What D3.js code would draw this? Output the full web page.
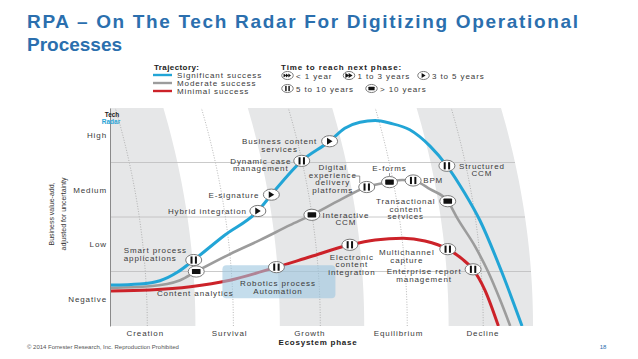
<!DOCTYPE html>
<html>
<head>
<meta charset="utf-8">
<script src="https://cdn.jsdelivr.net/npm/d3@7/dist/d3.min.js"></script>
<style>
  body { margin: 0; background: #fff; }
  svg text { font-family: "Liberation Sans", Arial, Helvetica, sans-serif; }
</style>
</head>
<body>
<div id="chart"></div>
<script>
// phases on x, business value on y
var phases = ["Creation", "Survival", "Growth", "Equilibrium", "Decline"];
var phaseTicks = [0.4, 1.4, 2.35, 3.4, 4.4];
var phaseMids = [0.43, 1.45, 2.48, 3.51, 4.41];
var levels = ["Negative", "Low", "Medium", "High"];
var levelTicks = [0.5, 1.5, 2.5, 3.5];

// trajectories [phase, value]
var significant = [[0, 0.75], [0.34, 0.77], [0.58, 0.83], [0.79, 0.99], [0.98, 1.21], [1.35, 1.67],
  [1.74, 2.11], [1.90, 2.41], [2.26, 3.03], [2.59, 3.39], [2.77, 3.63], [2.95, 3.74], [3.13, 3.77],
  [3.31, 3.72], [3.54, 3.60], [3.78, 3.30], [3.98, 2.94], [4.19, 2.44], [4.37, 1.94], [4.63, 0.99], [4.87, 0]];
var moderate = [[0, 0.70], [0.46, 0.73], [0.82, 0.84], [1.01, 1.00], [1.41, 1.32], [1.77, 1.58],
  [2.12, 1.85], [2.38, 2.04], [2.71, 2.31], [3.03, 2.55], [3.30, 2.64], [3.45, 2.68], [3.58, 2.67],
  [3.78, 2.51], [3.99, 2.29], [4.11, 1.96], [4.31, 1.47], [4.47, 0.99], [4.61, 0.48], [4.73, 0]];
var minimal = [[0, 0.64], [0.46, 0.66], [0.94, 0.72], [1.41, 0.84], [1.96, 1.08], [2.36, 1.27],
  [2.83, 1.49], [3.13, 1.58], [3.46, 1.61], [3.72, 1.56], [3.99, 1.41], [4.16, 1.23], [4.29, 1.04],
  [4.43, 0.66], [4.59, 0]];

var trajNames = ["Significant success", "Moderate success", "Minimal success"];
var trajColors = ["#22a5d6", "#9c9c9c", "#cc2229"];

// technologies on the radar
var techNames = ["Smart process|applications", "Hybrid integration", "E-signature", "Dynamic case|management",
  "Business content|services", "Structured|CCM", "Content analytics", "Interactive|CCM",
  "Digital|experience|delivery|platforms", "E-forms", "BPM", "Transactional|content|services",
  "Robotics process|Automation", "Electronic|content|integration", "Multichannel|capture",
  "Enterprise report|management"];
var techPhase = [0.98, 1.74, 1.90, 2.26, 2.59, 3.98, 1.01, 2.38, 3.03, 3.30, 3.58, 3.99, 1.96, 2.83, 3.99, 4.29];
var techValue = [1.21, 2.11, 2.41, 3.03, 3.39, 2.94, 1.00, 2.04, 2.55, 2.64, 2.67, 2.29, 1.08, 1.49, 1.41, 1.04];
var techTime = ["5-10", "3-5", "3-5", "5-10", "3-5", "5-10", ">10", ">10", "5-10", ">10", "5-10", ">10",
  "5-10", "5-10", "5-10", "5-10"];

var timeNames = ["< 1 year", "1 to 3 years", "3 to 5 years", "5 to 10 years", "> 10 years"];
var timeKeys = ["<1", "1-3", "3-5", "5-10", ">10"];

// label placement, pixels from the marker
var labelPlace = [
  {dx: -70, dy: -7, a: "start"}, {dx: -11, dy: 3, a: "end"}, {dx: -12, dy: 3, a: "end"},
  {dx: -41, dy: 3, a: "middle"}, {dx: -50, dy: 3, a: "middle"}, {dx: 35, dy: 3, a: "middle"},
  {dx: -1, dy: 24, a: "middle"}, {dx: 34, dy: 3, a: "middle"}, {dx: -34, dy: -17, a: "middle", lead: true},
  {dx: 0, dy: -11, a: "middle", tick: true}, {dx: 10, dy: 3, a: "start"}, {dx: -42, dy: 3, a: "middle"},
  {dx: 1.5, dy: 19, a: "middle", box: true}, {dx: 2, dy: 15, a: "middle"}, {dx: -41, dy: 6, a: "middle"},
  {dx: -49, dy: 5, a: "middle"}
];

var w = 638, h = 359;
var ink = "#3a3a3a";

// Create SVG
var svg = d3.select("#chart")
  .append("svg")
  .attr("width", w)
  .attr("height", h);

var x = d3.scaleLinear().domain([0, 5]).range([111, 533]);
var y = d3.scaleLinear().domain([0, 4]).range([326, 108]);

// title
var title = svg.append("g").attr("fill", "#2b6fae").attr("font-weight", "bold").attr("font-size", "19px");
title.append("text").attr("x", 27).attr("y", 28)
  .attr("textLength", 551).attr("lengthAdjust", "spacing")
  .text("RPA \u2013 On The Tech Radar For  Digitizing Operational");
title.append("text").attr("x", 27).attr("y", 51).text("Processes");

// plot clip
svg.append("clipPath").attr("id", "plot")
  .append("rect").attr("x", 110).attr("y", 108).attr("width", 440).attr("height", 218);

// radar bands lean left toward the top
var lean = 32;
function edgeX(p, v) {
  return x(p) - lean * Math.pow(v / 4, 2);
}
var vs = d3.range(0, 4.001, 0.1);
var bandArea = function(p) {
  return d3.area()
    .y(function(v) { return y(v); })
    .x0(function(v) { return edgeX(p, v); })
    .x1(function(v) { return edgeX(p + 1, v); })(vs);
};
var bg = svg.append("g").attr("clip-path", "url(#plot)");
[0, 2, 4].forEach(function(p) {
  bg.append("path").attr("d", bandArea(p)).attr("fill", "#e6e7e8");
});

// dotted phase lines
phaseMids.forEach(function(p) {
  bg.append("path")
    .attr("d", d3.line().x(function(v) { return edgeX(p, v); }).y(function(v) { return y(v); })(vs))
    .attr("fill", "none")
    .attr("stroke", "#9a9a9a")
    .attr("stroke-width", 0.7)
    .attr("stroke-dasharray", "1,1.6");
});

// level gridlines
[1, 2, 3].forEach(function(v) {
  bg.append("line")
    .attr("x1", 110).attr("x2", edgeX(5, v))
    .attr("y1", y(v)).attr("y2", y(v))
    .attr("stroke", "#bdbdbd").attr("stroke-width", 0.8);
});

// axes
var yAxis = d3.axisLeft(y).tickValues(levelTicks)
  .tickFormat(function(d, i) { return levels[i]; })
  .tickSize(0).tickPadding(3);
var gy = svg.append("g").attr("transform", "translate(110,0)").call(yAxis);
gy.select(".domain").attr("stroke", "#8a8a8a");

var xAxis = d3.axisBottom(x).tickValues(phaseTicks)
  .tickFormat(function(d, i) { return phases[i]; })
  .tickSize(0).tickPadding(4.5);
var gx = svg.append("g").attr("transform", "translate(0,326)").call(xAxis);
gx.select(".domain").remove();

svg.selectAll(".tick text")
  .attr("font-family", "Liberation Sans, Arial, sans-serif")
  .attr("font-size", "8px")
  .attr("letter-spacing", "0.9px")
  .attr("fill", ink);

svg.append("text").attr("x", 318).attr("y", 345).attr("text-anchor", "middle")
  .attr("font-size", "8px").attr("font-weight", "bold").attr("letter-spacing", "0.75px")
  .attr("fill", "#222").text("Ecosystem phase");

// y title
var yt = svg.append("text").attr("transform", "translate(0,214) rotate(-90)")
  .attr("text-anchor", "middle").attr("font-size", "8px").attr("fill", "#333");
yt.append("tspan").attr("x", 0).attr("y", 54).attr("textLength", 63).attr("lengthAdjust", "spacingAndGlyphs")
  .text("Business value-add,");
yt.append("tspan").attr("x", 0).attr("y", 66).attr("textLength", 73).attr("lengthAdjust", "spacingAndGlyphs")
  .text("adjusted for uncertainty");

// Tech Radar badge
svg.append("text").attr("x", 112).attr("y", 116.5).attr("text-anchor", "middle")
  .attr("font-size", "6.5px").attr("font-weight", "bold").attr("fill", "#222").text("Tech");
svg.append("text").attr("x", 111).attr("y", 124).attr("text-anchor", "middle")
  .attr("font-size", "6.5px").attr("font-weight", "bold").attr("fill", "#2aa3d5").text("Radar");

// trajectories
var line = d3.line()
  .x(function(d) { return x(d[0]); })
  .y(function(d) { return y(d[1]); })
  .curve(d3.curveMonotoneX);

svg.append("g").attr("clip-path", "url(#plot)")
  .selectAll("path")
  .data([minimal, moderate, significant])
  .enter()
  .append("path")
  .attr("d", line)
  .attr("fill", "none")
  .attr("stroke", function(d, i) { return trajColors[2 - i]; })
  .attr("stroke-width", function(d, i) { return [3, 2.6, 3][i]; })
  .attr("stroke-linecap", "butt");

// time-to-next-phase icon
function drawIcon(g, kind, s) {
  g.append("ellipse").attr("rx", 8 * s).attr("ry", 5.6 * s)
    .attr("fill", "#fff").attr("stroke", "#7a7a7a").attr("stroke-width", 1);
  var tri = function(x0) {
    g.append("path").attr("d", "M" + x0 * s + "," + (-3.4 * s) + "L" + (x0 + 5.5) * s + ",0L" + x0 * s + "," + (3.4 * s) + "Z")
      .attr("fill", "#111");
  };
  if (kind === "3-5") tri(-2.6);
  if (kind === "1-3") { tri(-5); tri(-0.5); }
  if (kind === "<1") {
    [-5.5, -2.2, 1.1].forEach(function(x0) {
      g.append("path").attr("d", "M" + x0 * s + "," + (-2.8 * s) + "L" + (x0 + 3.8) * s + ",0L" + x0 * s + "," + (2.8 * s) + "Z")
        .attr("fill", "#111");
    });
  }
  if (kind === "5-10") {
    [-3.2, 1.2].forEach(function(x0) {
      g.append("rect").attr("x", x0 * s).attr("y", -3.6 * s).attr("width", 2 * s).attr("height", 7.2 * s).attr("fill", "#111");
    });
  }
  if (kind === ">10") {
    g.append("rect").attr("x", -4.3 * s).attr("y", -2.6 * s).attr("width", 8.6 * s).attr("height", 5.2 * s)
      .attr("rx", 0.6).attr("fill", "#111");
  }
}

// Robotics box (behind its marker)
var mk = svg.append("g");
techNames.forEach(function(name, i) {
  var p = labelPlace[i];
  if (!p.box) return;
  mk.append("rect")
    .attr("x", x(techPhase[i]) - 54).attr("y", y(techValue[i]) - 2)
    .attr("width", 113).attr("height", 33).attr("rx", 4)
    .attr("fill", "#9cc6e0").attr("fill-opacity", 0.6);
});

// markers and labels
techNames.forEach(function(name, i) {
  var cx = x(techPhase[i]), cy = y(techValue[i]);
  var p = labelPlace[i];
  if (p.tick) {
    mk.append("line").attr("x1", cx).attr("x2", cx).attr("y1", cy - 9).attr("y2", cy - 5.6)
      .attr("stroke", "#666").attr("stroke-width", 0.7);
  }
  if (p.lead) {
    mk.append("path").attr("d", "M" + (cx - 14) + "," + (cy - 11) + "L" + (cx - 7) + "," + (cy - 11) + "L" + (cx - 7) + "," + (cy - 4))
      .attr("fill", "none").attr("stroke", "#666").attr("stroke-width", 0.7);
  }
  var g = mk.append("g").attr("transform", "translate(" + cx + "," + cy + ")");
  drawIcon(g, techTime[i], 1);
  var t = mk.append("text")
    .attr("text-anchor", p.a)
    .attr("font-size", "8px")
    .attr("letter-spacing", "0.9px")
    .attr("fill", ink);
  name.split("|").forEach(function(s, k) {
    t.append("tspan").attr("x", cx + p.dx).attr("y", cy + p.dy + k * 7.6).text(s);
  });
});

// legend: trajectory
var lg = svg.append("g").attr("font-size", "8px").attr("fill", ink);
lg.append("text").attr("x", 154).attr("y", 70).attr("font-weight", "bold").attr("letter-spacing", "0.4px")
  .attr("fill", "#222").text("Trajectory:");
trajNames.forEach(function(n, i) {
  lg.append("line").attr("x1", 153).attr("x2", 172).attr("y1", 75 + i * 8).attr("y2", 75 + i * 8)
    .attr("stroke", trajColors[i]).attr("stroke-width", 2.4);
  lg.append("text").attr("x", 177).attr("y", 78 + i * 8).attr("letter-spacing", "0.9px").text(n);
});

// legend: time to reach next phase
lg.append("text").attr("x", 281).attr("y", 70).attr("font-weight", "bold").attr("letter-spacing", "0.9px")
  .attr("fill", "#222").text("Time to reach next phase:");
var iconX = [287.5, 349, 423.5, 287.5, 371.5];
var iconY = [75.5, 75.5, 75.5, 88.5, 88.5];
timeKeys.forEach(function(k, i) {
  var g = lg.append("g").attr("transform", "translate(" + iconX[i] + "," + iconY[i] + ")");
  drawIcon(g, k, 0.72);
  lg.append("text").attr("x", iconX[i] + 8.5).attr("y", iconY[i] + 3).attr("letter-spacing", "0.9px").text(timeNames[i]);
});

// footer
svg.append("text").attr("x", 27).attr("y", 349).attr("font-size", "6px").attr("fill", "#555")
  .text("\u00a9 2014 Forrester Research, Inc. Reproduction Prohibited");
svg.append("text").attr("x", 603).attr("y", 349).attr("text-anchor", "middle").attr("font-size", "6px")
  .attr("fill", "#2b6fae").text("18");
</script>
</body>
</html>
